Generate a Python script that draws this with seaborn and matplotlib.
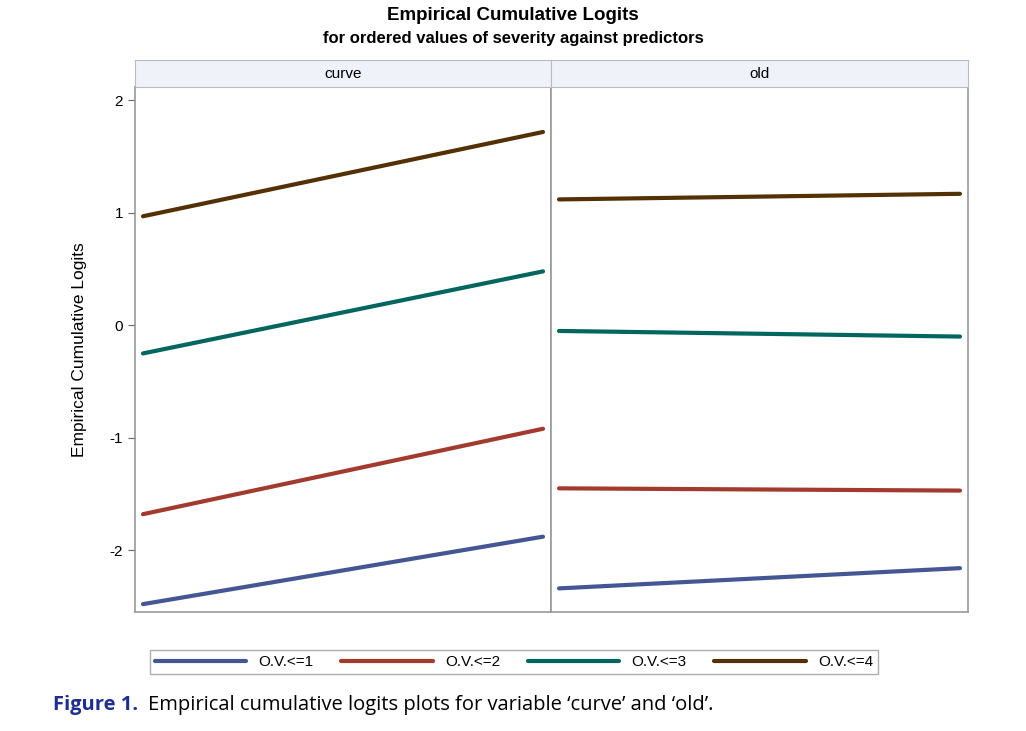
import matplotlib
matplotlib.use("Agg")
import matplotlib.pyplot as plt
import seaborn as sns
import pandas as pd

sns.set_style("white")
plt.rcParams['font.family'] = ['Liberation Sans', 'DejaVu Sans']
plt.rcParams['text.color'] = 'black'

panels = ["curve", "old"]
levels = ["O.V.<=1", "O.V.<=2", "O.V.<=3", "O.V.<=4"]
xvals = [0, 1]
curve_vals = {"O.V.<=1": [-2.48, -1.88], "O.V.<=2": [-1.68, -0.92],
              "O.V.<=3": [-0.25, 0.48], "O.V.<=4": [0.97, 1.72]}
old_vals = {"O.V.<=1": [-2.34, -2.16], "O.V.<=2": [-1.45, -1.47],
            "O.V.<=3": [-0.05, -0.10], "O.V.<=4": [1.12, 1.17]}
colors = ["#445694", "#A23A2E", "#01665E", "#543005"]

W, H = 1026, 731
fig = plt.figure(figsize=(W/100, H/100), dpi=100)
def ax_rect(x0, y0, x1, y1):
    return [x0/W, 1-y1/H, (x1-x0)/W, (y1-y0)/H]

axes = [fig.add_axes(ax_rect(135, 87, 551, 612)), fig.add_axes(ax_rect(551, 87, 968, 612))]
for ax, name, vals in zip(axes, panels, [curve_vals, old_vals]):
    rows = [(x, lv, vals[lv][i]) for lv in levels for i, x in enumerate(xvals)]
    df = pd.DataFrame(rows, columns=["x", "level", "y"])
    sns.lineplot(data=df, x="x", y="y", hue="level", hue_order=levels,
                 palette=colors, linewidth=3, ax=ax, legend=False)
    ax.set_xlim(-0.02, 1.02)
    ax.set_ylim(-2.55, 2.12)
    ax.set_xticks([])
    ax.set_xlabel("")
    ax.set_ylabel("")
    for s in ax.spines.values():
        s.set_color("#999999")
        s.set_linewidth(1.2)
    strip = fig.add_axes([ax.get_position().x0, 1-87/H, ax.get_position().width, 27/H])
    strip.set_facecolor("#F0F2FA")
    strip.set_xticks([]); strip.set_yticks([])
    for s in strip.spines.values():
        s.set_color("#BBBBBB")
    strip.text(0.5, 0.5, name, ha="center", va="center", fontsize=11, color="black")

axes[0].set_yticks([-2, -1, 0, 1, 2])
axes[0].set_yticklabels(["-2", "-1", "0", "1", "2"], fontsize=11, color="black")
axes[0].tick_params(axis="y", left=True, length=5, color="#666666")
axes[0].set_ylabel("Empirical Cumulative Logits", fontsize=12.5, labelpad=16, color="black")
axes[1].set_yticks([])

fig.text(0.5, 1-15/H, "Empirical Cumulative Logits", ha="center", va="center",
         fontsize=13.5, fontweight="bold")
fig.text(0.5, 1-38/H, "for ordered values of severity against predictors", ha="center",
         va="center", fontsize=12, fontweight="bold")

handles = [plt.Line2D([], [], color=c, lw=3) for c in colors]
fig.legend(handles, levels, loc="center", bbox_to_anchor=(514/W, 1-662/H), ncol=4,
           frameon=True, fontsize=11, handlelength=6, columnspacing=1.8,
           fancybox=False, edgecolor="#999999", borderpad=0.3)

fig.text(53/W, 1-705/H, "Figure 1.", ha="left", va="center", fontsize=14.5,
         fontweight="bold", color="#1F2F8F", family=["Open Sans", "DejaVu Sans"])
fig.text(148/W, 1-705/H, "Empirical cumulative logits plots for variable \u2018curve\u2019 and \u2018old\u2019.",
         ha="left", va="center", fontsize=14.5, family=["Open Sans", "DejaVu Sans"])

fig.savefig("out.png", dpi=100)
